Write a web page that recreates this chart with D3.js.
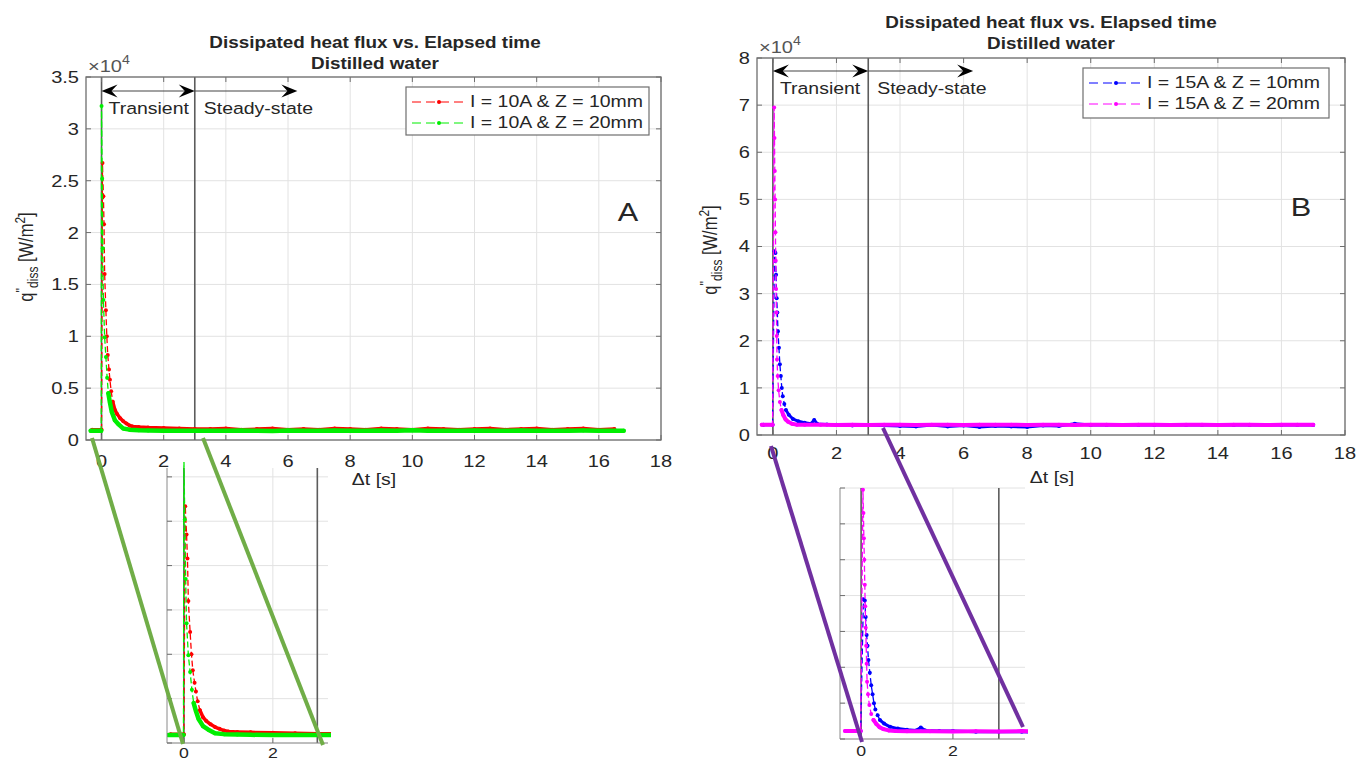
<!DOCTYPE html>
<html><head><meta charset="utf-8">
<script src="https://cdn.jsdelivr.net/npm/d3@7"></script>
<style>
body{margin:0;background:#fff}
svg{display:block}
text{font-family:"Liberation Sans",Arial,Helvetica,sans-serif}
</style>
</head><body>
<svg id="c" width="1365" height="763"></svg>
<script>
// ---------------- DATA ----------------
const xTicks = [0,2,4,6,8,10,12,14,16,18];
const xTickLabels = ["0","2","4","6","8","10","12","14","16","18"];
const yTicksA = [0,0.5,1,1.5,2,2.5,3,3.5];
const yTickLabelsA = ["0","0.5","1","1.5","2","2.5","3","3.5"];
const yTicksB = [0,1,2,3,4,5,6,7,8];
const yTickLabelsB = ["0","1","2","3","4","5","6","7","8"];
const insetYTicksA = [0,0.5,1,1.5,2,2.5,3];
const insetYTicksB = [0,1,2,3,4,5,6,7];
const insetXTicks = [0,2];
const phaseBounds = [0,3];
const legendA = ["I = 10A & Z = 10mm","I = 10A & Z = 20mm"];
const legendB = ["I = 15A & Z = 10mm","I = 15A & Z = 20mm"];

// Panel A, I = 10A & Z = 10mm  (q'' in units of 1e4 W/m^2)
const tRedA = [-0.3,0,0.03,0.06,0.08,0.1,0.14,0.17,0.2,0.24,0.27,0.31,0.36,0.43,0.5,0.6,0.7,0.8,0.9,1.0,1.2,1.5,2.0,2.5,3.0,3.5,4,4.5,5,5.5,6,6.5,7,7.5,8,8.5,9,9.5,10,10.5,11,11.5,12,12.5,13,13.5,14,14.5,15,15.5,16,16.5];
const qRedA = [0.10,0.10,2.67,2.35,2.08,1.60,1.25,1.00,0.82,0.68,0.58,0.47,0.37,0.29,0.25,0.21,0.18,0.16,0.14,0.13,0.125,0.12,0.115,0.11,0.105,0.105,0.11,0.10,0.105,0.11,0.10,0.105,0.10,0.11,0.105,0.10,0.11,0.105,0.10,0.11,0.105,0.10,0.105,0.11,0.10,0.105,0.11,0.10,0.105,0.11,0.10,0.105];
// Panel A, I = 10A & Z = 20mm
const tGreenA = [-0.35,-0.01,0,0.02,0.04,0.06,0.1,0.14,0.18,0.22,0.27,0.33,0.43,0.55,0.7,0.9,1.2,1.5,2.0,2.5,3.0,3.5,4,4.5,5,5.5,6,6.5,7,7.5,8,8.5,9,9.5,10,10.5,11,11.5,12,12.5,13,13.5,14,14.5,15,15.5,16,16.5,16.8];
const qGreenA = [0.09,0.09,3.22,2.52,1.85,1.35,0.99,0.80,0.60,0.45,0.36,0.27,0.19,0.15,0.11,0.10,0.095,0.092,0.09,0.09,0.09,0.09,0.088,0.092,0.09,0.087,0.091,0.09,0.089,0.092,0.09,0.088,0.091,0.09,0.093,0.089,0.09,0.088,0.091,0.09,0.089,0.092,0.09,0.088,0.09,0.091,0.089,0.09,0.09];
// Panel B, I = 15A & Z = 10mm
const tBlueB = [-0.3,-0.01,0.05,0.08,0.1,0.12,0.14,0.16,0.19,0.22,0.25,0.28,0.31,0.36,0.41,0.5,0.63,0.8,1.0,1.2,1.3,1.4,1.7,2.0,2.5,3.0,3.5,4,4.5,5,5.5,6,6.5,7,7.5,8,8.5,9,9.5,10,10.5,11,11.5,12,12.5,13,13.5,14,14.5,15,15.5,16,16.5,17.0];
const qBlueB = [0.22,0.22,3.9,3.86,3.4,2.9,2.6,2.2,1.85,1.5,1.25,1.0,0.82,0.66,0.53,0.43,0.34,0.29,0.26,0.24,0.32,0.235,0.225,0.22,0.2,0.21,0.20,0.19,0.18,0.21,0.18,0.20,0.17,0.19,0.18,0.17,0.20,0.19,0.24,0.21,0.21,0.21,0.21,0.21,0.21,0.21,0.21,0.21,0.21,0.21,0.21,0.21,0.21,0.21];
// Panel B, I = 15A & Z = 20mm
const tMagB = [-0.35,-0.01,0.04,0.05,0.06,0.07,0.08,0.09,0.1,0.11,0.12,0.13,0.15,0.18,0.22,0.27,0.33,0.4,0.48,0.6,0.75,1.0,1.5,2.0,2.5,3.0,3.5,4,4.5,5,5.5,6,6.5,7,7.5,8,8.5,9,9.5,10,10.5,11,11.5,12,12.5,13,13.5,14,14.5,15,15.5,16,16.5,17.0];
const qMagB = [0.22,0.22,6.95,6.3,5.6,5.0,4.3,3.7,3.1,2.6,2.1,1.6,1.25,0.95,0.7,0.53,0.42,0.33,0.28,0.24,0.22,0.215,0.215,0.21,0.215,0.21,0.22,0.215,0.21,0.22,0.215,0.21,0.22,0.215,0.22,0.21,0.215,0.22,0.21,0.215,0.22,0.21,0.215,0.22,0.21,0.215,0.22,0.21,0.215,0.22,0.21,0.215,0.22,0.22];

// ---------------- DRAWING ----------------
const SX = 1.18;
const TXT = "#262626";
const svg = d3.select("#c");
let clipN = 0;

function T(g, x, y, s, o = {}) {
  return g.append("text")
    .attr("transform", `translate(${x},${y}) scale(${o.sx || SX},1)`)
    .attr("text-anchor", o.anchor || "middle")
    .attr("dominant-baseline", "central")
    .style("font-size", (o.size || 16.5) + "px")
    .style("font-weight", o.weight || "normal")
    .attr("fill", o.fill || TXT)
    .text(s);
}

function drawSeries(g, x, y, t, q, color, bandMax, bandW) {
  const pts = t.map((v, i) => [v, q[i]]);
  const line = d3.line().x(d => x(d[0])).y(d => y(d[1]));
  g.append("path").attr("d", line(pts)).attr("fill", "none")
    .attr("stroke", color).attr("stroke-width", 1.3).attr("stroke-dasharray", "6,3");
  g.append("path").attr("d", line.defined(d => d[1] <= bandMax)(pts)).attr("fill", "none")
    .attr("stroke", color).attr("stroke-width", bandW).attr("stroke-linejoin", "round").attr("stroke-linecap", "round");
  g.selectAll(null).data(pts).join("circle")
    .attr("cx", d => x(d[0])).attr("cy", d => y(d[1])).attr("r", 2).attr("fill", color);
}

function arrowHead(g, x, y, dir) {
  const L = 16, W = 6.5;
  const p = [[x, y], [x - dir * L, y - W], [x - dir * L * 0.62, y], [x - dir * L, y + W]];
  g.append("path").attr("d", "M" + p.map(d => d.join(",")).join("L") + "Z").attr("fill", "#000");
}

function drawPanel(c) {
  const g = svg.append("g");
  const x = d3.scaleLinear().domain([-0.5, 18]).range([c.l, c.r]);
  const y = d3.scaleLinear().domain([0, c.yMax]).range([c.b, c.t]);
  g.selectAll(null).data(xTicks).join("line")
    .attr("x1", d => x(d)).attr("x2", d => x(d)).attr("y1", c.t).attr("y2", c.b)
    .attr("stroke", "#e2e2e2").attr("stroke-width", 1);
  g.selectAll(null).data(c.yTicks).join("line")
    .attr("x1", c.l).attr("x2", c.r).attr("y1", d => y(d)).attr("y2", d => y(d))
    .attr("stroke", "#e2e2e2").attr("stroke-width", 1);
  g.selectAll(null).data(phaseBounds).join("line")
    .attr("x1", d => x(d)).attr("x2", d => x(d)).attr("y1", c.t).attr("y2", c.b)
    .attr("stroke", "#5c5c5c").attr("stroke-width", 1.6);
  const id = "clip" + (clipN++);
  svg.append("clipPath").attr("id", id).append("rect")
    .attr("x", c.l).attr("y", c.t).attr("width", c.r - c.l).attr("height", c.b - c.t);
  const dg = g.append("g").attr("clip-path", `url(#${id})`);
  c.series.forEach(s => drawSeries(dg, x, y, s.t, s.q, s.color, c.bandMax, s.bandW));
  g.append("rect").attr("x", c.l).attr("y", c.t).attr("width", c.r - c.l).attr("height", c.b - c.t)
    .attr("fill", "none").attr("stroke", "#6e6e6e").attr("stroke-width", 1.3);
  xTicks.forEach(v => {
    g.append("line").attr("x1", x(v)).attr("x2", x(v)).attr("y1", c.b).attr("y2", c.b - 5).attr("stroke", "#6e6e6e");
    g.append("line").attr("x1", x(v)).attr("x2", x(v)).attr("y1", c.t).attr("y2", c.t + 5).attr("stroke", "#6e6e6e");
  });
  c.yTicks.forEach(v => {
    g.append("line").attr("x1", c.l).attr("x2", c.l + 5).attr("y1", y(v)).attr("y2", y(v)).attr("stroke", "#6e6e6e");
    g.append("line").attr("x1", c.r).attr("x2", c.r - 5).attr("y1", y(v)).attr("y2", y(v)).attr("stroke", "#6e6e6e");
  });
  xTicks.forEach((v, i) => T(g, x(v), c.xLabY, xTickLabels[i], { size: 17 }));
  c.yTicks.forEach((v, i) => T(g, c.l - 7, y(v), c.yLabels[i], { anchor: "end", size: 17 }));
  const ex = g.append("text").attr("transform", `translate(${c.l + 2},${c.t - 11}) scale(${SX},1)`)
    .attr("fill", "#555").style("font-size", "17px").attr("dominant-baseline", "central");
  ex.append("tspan").text("\u00d710");
  ex.append("tspan").attr("dy", -7).style("font-size", "12px").text("4");
  T(g, c.titleX, c.titleY, "Dissipated heat flux vs. Elapsed time", { weight: "bold", size: 16 });
  T(g, c.titleX, c.titleY + 21, "Distilled water", { weight: "bold", size: 16 });
  T(g, c.xlabX, c.xlabY, "\u0394t [s]", { size: 16.5 });
  const yl = g.append("text").attr("transform", `translate(${c.ylabX},${c.ylabY}) rotate(-90) scale(1,${SX})`)
    .attr("text-anchor", "middle").attr("fill", TXT).style("font-size", "16.5px");
  yl.append("tspan").text("q");
  yl.append("tspan").attr("dy", -6).style("font-size", "12px").text("''");
  yl.append("tspan").attr("dy", 10).style("font-size", "12px").text("diss");
  yl.append("tspan").attr("dy", -4).text(" [W/m");
  yl.append("tspan").attr("dy", -7).style("font-size", "12px").text("2");
  yl.append("tspan").attr("dy", 7).text("]");
  const ay = c.arrowY;
  g.append("line").attr("x1", x(0) + 4).attr("x2", x(3) - 4).attr("y1", ay).attr("y2", ay).attr("stroke", "#444").attr("stroke-width", 1.2);
  arrowHead(g, x(0), ay, -1);
  arrowHead(g, x(3), ay, 1);
  g.append("line").attr("x1", x(3)).attr("x2", x(6.3) - 4).attr("y1", ay).attr("y2", ay).attr("stroke", "#444").attr("stroke-width", 1.2);
  arrowHead(g, x(6.3), ay, 1);
  T(g, x(0) + 7, ay + 18, "Transient", { anchor: "start" });
  T(g, x(3) + 9, ay + 18, "Steady-state", { anchor: "start" });
  const L = c.legend;
  g.append("rect").attr("x", L.x).attr("y", L.y).attr("width", L.w).attr("height", L.h)
    .attr("fill", "#fff").attr("stroke", "#6e6e6e").attr("stroke-width", 1.2);
  c.series.forEach((s, i) => {
    const yy = L.y + 15 + i * 21;
    g.append("line").attr("x1", L.x + 6).attr("x2", L.x + 60).attr("y1", yy).attr("y2", yy)
      .attr("stroke", s.color).attr("stroke-width", 1).attr("stroke-dasharray", "9,5");
    g.append("circle").attr("cx", L.x + 33).attr("cy", yy).attr("r", 2).attr("fill", s.color);
    T(g, L.x + 64, yy, c.legendNames[i], { anchor: "start" });
  });
  T(g, c.letterX, c.letterY, c.letter, { size: 26 });
  return { x, y };
}

function drawInset(c) {
  const g = svg.append("g");
  const x = d3.scaleLinear().domain(c.xDom).range([c.l, c.r]);
  const y = d3.scaleLinear().domain([0, c.yMax]).range([c.b, c.t]);
  g.selectAll(null).data(c.yTicks).join("line")
    .attr("x1", c.l).attr("x2", c.r).attr("y1", d => y(d)).attr("y2", d => y(d))
    .attr("stroke", "#e2e2e2");
  g.selectAll(null).data(insetXTicks).join("line")
    .attr("x1", d => x(d)).attr("x2", d => x(d)).attr("y1", c.t).attr("y2", c.b)
    .attr("stroke", "#e2e2e2");
  g.selectAll(null).data(phaseBounds).join("line")
    .attr("x1", d => x(d)).attr("x2", d => x(d)).attr("y1", c.t).attr("y2", c.b)
    .attr("stroke", "#5c5c5c").attr("stroke-width", 1.6);
  const id = "clip" + (clipN++);
  svg.append("clipPath").attr("id", id).append("rect")
    .attr("x", c.l).attr("y", c.t - 6).attr("width", c.r - c.l + 3).attr("height", c.b - c.t + 6);
  const dg = g.append("g").attr("clip-path", `url(#${id})`);
  c.series.forEach(s => drawSeries(dg, x, y, s.t, s.q, s.color, c.bandMax, s.bandW));
  g.append("line").attr("x1", c.l).attr("x2", c.l).attr("y1", c.t).attr("y2", c.b).attr("stroke", "#8a8a8a");
  g.append("line").attr("x1", c.l).attr("x2", c.r).attr("y1", c.b).attr("y2", c.b).attr("stroke", "#8a8a8a");
  c.yTicks.forEach(v => g.append("line").attr("x1", c.l).attr("x2", c.l + 5).attr("y1", y(v)).attr("y2", y(v)).attr("stroke", "#6e6e6e"));
  insetXTicks.forEach(v => {
    g.append("line").attr("x1", x(v)).attr("x2", x(v)).attr("y1", c.b).attr("y2", c.b - 5).attr("stroke", "#6e6e6e");
    T(g, x(v), c.labY, String(v), { size: 15 });
  });
}

drawPanel({
  l: 86, r: 661, t: 77, b: 440, yMax: 3.5, yTicks: yTicksA, yLabels: yTickLabelsA,
  xLabY: 461, titleX: 375, titleY: 43, xlabX: 374, xlabY: 480, ylabX: 33, ylabY: 257,
  arrowY: 91, bandMax: 0.45,
  legend: { x: 406, y: 87, w: 243, h: 48 }, legendNames: legendA,
  letter: "A", letterX: 628, letterY: 212,
  series: [{ t: tRedA, q: qRedA, color: "#ff0000", bandW: 3.5 }, { t: tGreenA, q: qGreenA, color: "#00ee00", bandW: 4.5 }]
});
drawPanel({
  l: 757, r: 1345, t: 58, b: 435, yMax: 8, yTicks: yTicksB, yLabels: yTickLabelsB,
  xLabY: 453, titleX: 1051, titleY: 23, xlabX: 1052, xlabY: 478, ylabX: 717, ylabY: 250,
  arrowY: 71, bandMax: 0.6,
  legend: { x: 1083, y: 68, w: 246, h: 50 }, legendNames: legendB,
  letter: "B", letterX: 1301, letterY: 207,
  series: [{ t: tBlueB, q: qBlueB, color: "#0000ff", bandW: 3 }, { t: tMagB, q: qMagB, color: "#ff00ff", bandW: 4 }]
});

drawInset({
  l: 167, r: 328, t: 468, b: 743, xDom: [-0.38, 3.24], yMax: 3.1, yTicks: insetYTicksA, labY: 753, bandMax: 0.45,
  series: [{ t: tRedA, q: qRedA, color: "#ff0000", bandW: 3.5 }, { t: tGreenA, q: qGreenA, color: "#00ee00", bandW: 4.5 }]
});
drawInset({
  l: 840, r: 1025, t: 488, b: 739, xDom: [-0.46, 3.57], yMax: 7, yTicks: insetYTicksB, labY: 751, bandMax: 0.6,
  series: [{ t: tBlueB, q: qBlueB, color: "#0000ff", bandW: 3 }, { t: tMagB, q: qMagB, color: "#ff00ff", bandW: 4 }]
});

// zoom connector lines (annotation)
const connA = [[[92, 438], [183, 744]], [[203, 438], [323, 745]]];
const connB = [[[771, 446], [862, 742]], [[883, 428], [1023, 727]]];
connA.forEach(p => svg.append("line").attr("x1", p[0][0]).attr("y1", p[0][1]).attr("x2", p[1][0]).attr("y2", p[1][1])
  .attr("stroke", "#70ad47").attr("stroke-width", 4));
connB.forEach(p => svg.append("line").attr("x1", p[0][0]).attr("y1", p[0][1]).attr("x2", p[1][0]).attr("y2", p[1][1])
  .attr("stroke", "#7030a0").attr("stroke-width", 4));
</script>
</body></html>
